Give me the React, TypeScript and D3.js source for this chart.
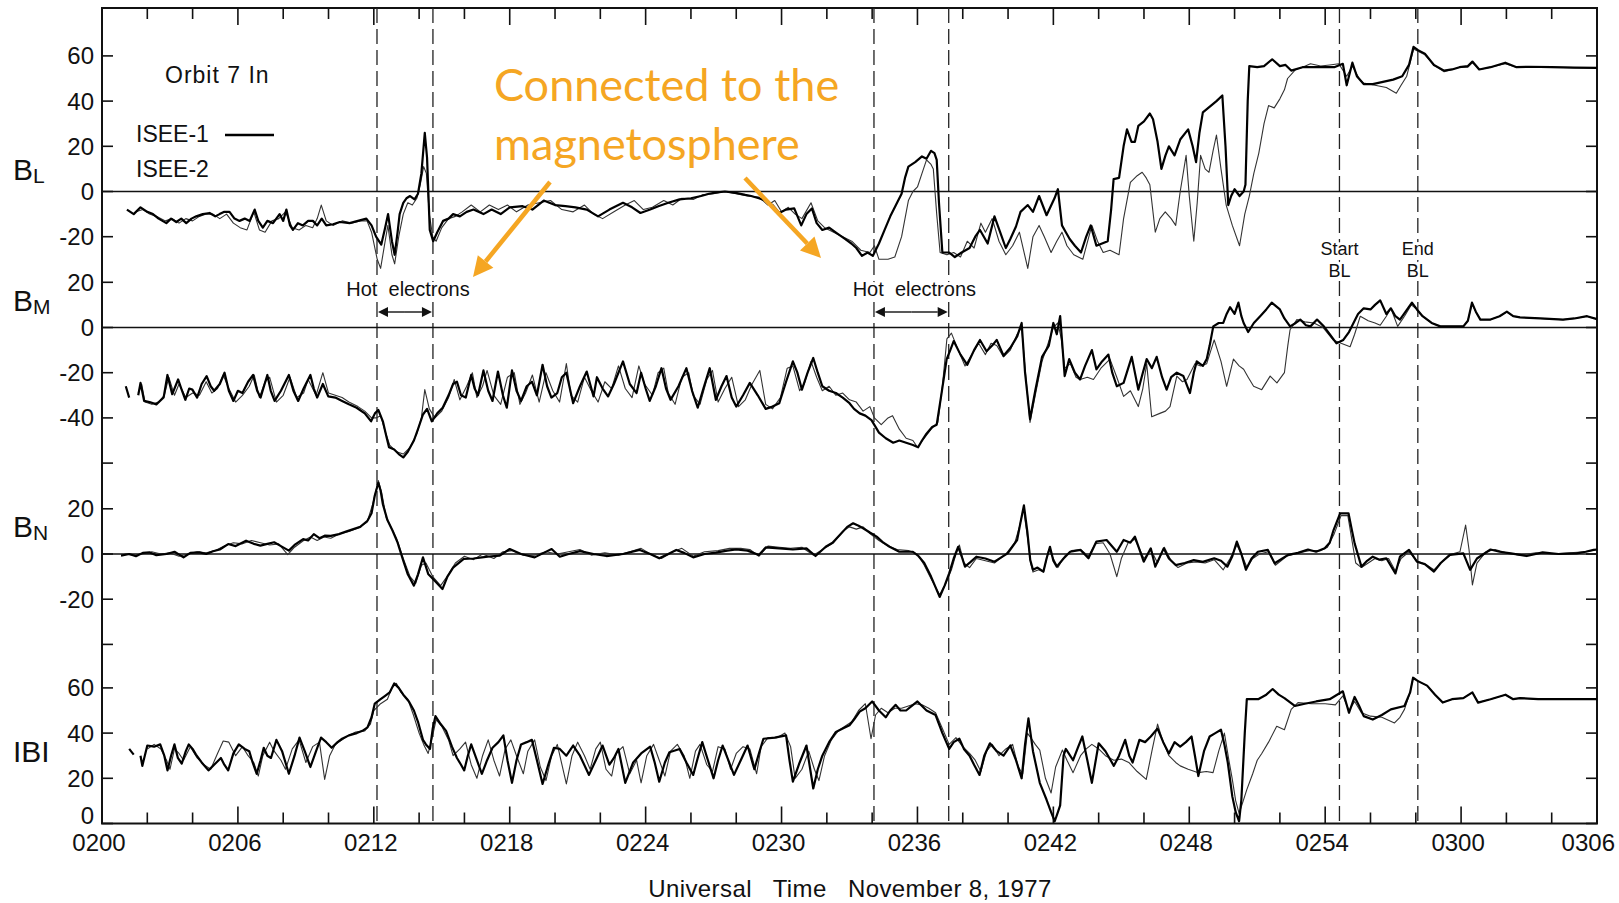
import React from 'react';
import * as d3 from 'd3';

type P = [number, number | null];

// minutes after 02:00 UT, value in nT
const BL_ISEE1: P[] = [[1.1,-8],[1.4,-10],[1.7,-7],[2.0,-9],[2.25,-10],[2.5,-12],[2.84,-14],[3.05,-12],[3.28,-13.5],[3.5,-12],[3.72,-14],[3.95,-12],[4.16,-11],[4.45,-10],[4.75,-9.5],[5.0,-11],[5.19,-10],[5.4,-9],[5.63,-9],[5.85,-12],[6.07,-13],[6.3,-12],[6.52,-13],[6.74,-8],[6.9,-13],[7.1,-16],[7.3,-13],[7.55,-14],[7.84,-10],[8.0,-13],[8.14,-8],[8.3,-15],[8.43,-17],[8.65,-14],[8.87,-15],[9.1,-13],[9.31,-13],[9.5,-15],[9.7,-12],[9.9,-15],[10.2,-14.5],[10.5,-13.5],[10.93,-14],[11.3,-13],[11.67,-12],[11.9,-15],[12.1,-20],[12.33,-23.5],[12.5,-16],[12.63,-10],[12.8,-22],[12.92,-28],[13.05,-18],[13.14,-10],[13.3,-5],[13.44,-3],[13.6,-2],[13.8,-3.5],[13.95,-1],[14.1,8],[14.25,26],[14.35,15],[14.47,-17],[14.62,-22],[14.8,-18],[15.06,-13],[15.3,-12],[15.5,-10],[15.8,-11],[16.1,-9],[16.4,-8],[16.84,-10],[17.2,-8],[17.6,-10],[18.0,-7],[18.57,-6.5],[19.0,-8],[19.5,-4],[20.0,-6],[20.46,-6.5],[20.9,-7],[21.4,-8],[21.9,-11],[22.4,-8],[23.0,-5],[23.4,-7],[23.77,-9.5],[24.2,-8],[24.56,-6.5],[25.0,-5],[25.5,-3.5],[26.0,-3],[26.45,-2],[26.8,-1],[27.08,-0.5],[27.5,0],[28.03,-0.7],[28.4,-1.5],[28.66,-2],[29.0,-3],[29.3,-4],[29.6,-6],[29.9,-9.5],[30.2,-8],[30.56,-7.5],[30.87,-15],[31.1,-10],[31.34,-7.5],[31.55,-14],[31.8,-17],[32.1,-16],[32.45,-18.5],[32.8,-21],[33.08,-23],[33.3,-25],[33.55,-28.5],[33.8,-27],[34.03,-28.5],[34.3,-23],[34.55,-17],[34.8,-11],[35.05,-6],[35.3,-1],[35.45,6],[35.6,11],[35.9,13],[36.2,15.5],[36.4,14.5],[36.6,18],[36.75,17],[36.85,14],[36.95,-5],[37.1,-27],[37.4,-27],[37.65,-29],[37.95,-27],[38.3,-25],[38.55,-20],[38.76,-17],[39.1,-23],[39.4,-11],[39.65,-18],[39.9,-25],[40.1,-21],[40.35,-15.5],[40.55,-9],[40.87,-6],[41.1,-9],[41.37,-2],[41.7,-10.5],[42.05,-3],[42.2,1],[42.38,-15],[42.55,-18],[42.72,-21],[42.95,-24],[43.22,-27],[43.45,-20],[43.65,-15],[43.9,-24],[44.15,-23],[44.4,-22],[44.55,-8],[44.66,5.5],[44.9,6],[45.1,20],[45.25,27.5],[45.45,22],[45.6,22],[45.75,29],[46.0,31],[46.26,34.5],[46.4,32],[46.6,22],[46.77,10],[46.95,16],[47.1,20],[47.35,16],[47.6,23],[47.95,27.5],[48.15,20],[48.3,13],[48.45,26],[48.6,35],[48.96,38],[49.2,40],[49.46,42.5],[49.6,20],[49.72,-6],[49.85,-2],[50.0,1],[50.22,-2],[50.4,0],[50.48,3],[50.58,40],[50.65,55.5],[51.0,55],[51.3,55.5],[51.66,58.5],[52.0,55.5],[52.25,56],[52.5,53.5],[53.0,55],[53.5,55],[54.0,55],[54.4,55],[54.78,56.5],[54.95,47],[55.2,57],[55.4,51],[55.7,47.5],[56.1,47.5],[56.55,48.5],[57.0,49.5],[57.4,51],[57.7,56],[57.9,64],[58.1,62.5],[58.4,61],[58.8,56],[59.25,53.5],[59.6,54],[59.93,55],[60.3,55.5],[60.5,57.5],[60.8,54],[61.3,55],[61.95,57],[62.45,55],[63.0,55.2],[64.0,55],[65.0,54.8],[66.0,54.7]];

const BL_ISEE2: P[] = [[1.5,-9],[1.8,-8],[2.1,-10],[2.4,-11],[2.8,-13],[3.1,-12],[3.4,-14],[3.7,-12],[4.0,-13],[4.3,-11],[4.6,-10],[4.9,-10],[5.2,-12],[5.5,-10],[5.8,-14],[6.1,-16],[6.4,-17],[6.7,-9],[6.95,-17],[7.2,-18],[7.5,-13],[7.8,-12],[8.1,-9],[8.4,-16],[8.7,-17],[9.0,-15],[9.3,-16],[9.5,-12],[9.68,-6],[9.9,-13],[10.2,-15],[10.6,-13],[11.0,-14],[11.4,-13],[11.7,-13],[11.9,-18],[12.15,-30],[12.3,-34],[12.5,-22],[12.62,-15],[12.8,-28],[12.92,-32],[13.1,-20],[13.3,-10],[13.5,-5],[13.7,-6],[13.9,-3],[14.05,3],[14.2,11],[14.32,8],[14.45,-10],[14.6,-20],[14.75,-22],[15.0,-16],[15.3,-12],[15.6,-11],[15.9,-9],[16.3,-6],[16.7,-9],[17.1,-6],[17.5,-8],[17.9,-6],[18.3,-9],[18.8,-6],[19.3,-5],[19.8,-4],[20.3,-8],[20.8,-9],[21.3,-6],[21.7,-10],[22.1,-12],[22.6,-9],[23.1,-6],[23.5,-4],[23.9,-8],[24.3,-7],[24.8,-4],[25.2,-6],[25.6,-3],[26.1,-3.5],[26.5,-1.5],[27.0,-1],[27.5,0],[28.0,-1],[28.5,-2],[29.0,-2.5],[29.4,-6],[29.7,-4],[30.0,-9],[30.3,-7],[30.6,-10],[30.9,-12],[31.3,-5],[31.6,-13],[31.9,-16],[32.3,-18],[32.7,-20],[33.1,-22],[33.5,-26],[33.9,-27],[34.1,-24],[34.3,-30],[34.7,-30],[35.0,-29],[35.3,-20],[35.6,-4],[35.8,0],[36.0,2],[36.2,8],[36.4,14],[36.6,12],[36.7,10],[36.85,-10],[37.0,-27],[37.3,-28],[37.6,-27],[37.9,-29],[38.2,-22],[38.5,-25],[38.8,-14],[39.0,-18],[39.3,-12],[39.6,-22],[39.9,-28],[40.2,-24],[40.5,-18],[40.87,-34],[41.1,-20],[41.37,-15],[41.6,-20],[41.9,-27],[42.15,-22],[42.38,-18],[42.6,-24],[42.9,-28],[43.3,-30],[43.7,-15],[43.95,-22],[44.2,-27],[44.5,-26],[44.9,-28],[45.1,-12],[45.4,4],[45.7,7],[45.92,8.5],[46.1,6],[46.26,3],[46.5,-18],[46.7,-12],[46.94,-9],[47.2,-12],[47.4,-15],[47.6,0],[47.86,16],[48.0,-2],[48.2,-22],[48.35,-5],[48.5,16],[48.7,10],[48.87,8.5],[49.05,18],[49.2,25],[49.4,10],[49.63,-6],[49.9,-15],[50.22,-24],[50.45,-10],[50.65,-2],[50.85,8],[51.07,17],[51.3,30],[51.5,38],[51.75,37],[52.0,41],[52.2,45],[52.34,50],[52.7,54],[53.0,55],[53.35,56.5],[53.8,55.5],[54.2,56],[54.6,56.5],[54.95,51],[55.2,55.5],[55.5,50],[55.7,48],[56.2,47],[56.7,46],[57.14,43.5],[57.35,47],[57.6,51],[57.9,63],[58.1,62],[58.4,60.5],[58.8,56],[59.25,53],[59.6,54],[59.93,55],[60.3,55],[60.5,57],[60.8,54],[61.3,55],[61.95,56.5],[62.45,55],[63.0,55],[64.0,55],[65.0,54.8],[66.0,54.7]];

const BM_ISEE1: P[] = [[1.05,-26],[1.2,-31],[1.3,null],[1.6,-30],[1.7,-24.5],[1.86,-32.5],[2.1,-33],[2.4,-34],[2.72,-31],[2.89,-21],[3.1,-29.5],[3.36,-23],[3.5,-27],[3.68,-32],[3.85,-27],[3.99,-27.5],[4.2,-31],[4.4,-25],[4.62,-21.5],[4.8,-26],[4.95,-28],[5.2,-25],[5.41,-20],[5.6,-28],[5.8,-32.5],[6.0,-28],[6.2,-29],[6.45,-24],[6.67,-21],[6.85,-28],[7.0,-31],[7.15,-26],[7.3,-21],[7.45,-28],[7.62,-32.5],[7.9,-28],[8.25,-21],[8.45,-28],[8.66,-32.5],[8.9,-27],[9.2,-21],[9.35,-27],[9.5,-31],[9.75,-25],[9.99,-30.5],[10.3,-31],[10.6,-32.5],[10.9,-34],[11.24,-35.5],[11.6,-38],[11.88,-41.5],[12.05,-38],[12.2,-36.5],[12.4,-41.5],[12.55,-48],[12.67,-53],[12.9,-54],[13.1,-56],[13.3,-57.5],[13.5,-55],[13.77,-50],[13.95,-45],[14.17,-38.5],[14.35,-36],[14.56,-41.5],[14.8,-38],[15.04,-35.5],[15.3,-30],[15.5,-25],[15.67,-24],[15.85,-30],[16.06,-31],[16.3,-21],[16.45,-27],[16.6,-30],[16.84,-19],[17.05,-28],[17.24,-32.5],[17.48,-19.5],[17.7,-30],[17.87,-35.5],[18.1,-19],[18.3,-28],[18.5,-32.5],[18.75,-26],[18.98,-24],[19.2,-30],[19.45,-16.5],[19.65,-26],[19.84,-31],[20.1,-29],[20.3,-22],[20.5,-20],[20.8,-33.5],[21.1,-26],[21.4,-19.5],[21.7,-30.5],[21.85,-22],[22.1,-27],[22.34,-30.5],[22.6,-25],[23.0,-15],[23.3,-25],[23.6,-29],[23.8,-20],[24.0,-27],[24.18,-32.5],[24.45,-26],[24.7,-18],[24.9,-27],[25.1,-32],[25.45,-26],[25.8,-18],[26.05,-28],[26.3,-35.5],[26.55,-27],[26.83,-18],[27.1,-32],[27.35,-26],[27.57,-21.5],[27.8,-31],[28.0,-35],[28.3,-30],[28.6,-24.5],[28.95,-30],[29.3,-36],[29.6,-35],[29.9,-33.5],[30.2,-24],[30.5,-15],[30.7,-20],[30.9,-27.5],[31.15,-20],[31.4,-13.5],[31.6,-20],[31.8,-26],[32.1,-28],[32.4,-29],[32.7,-31],[33.0,-33.5],[33.2,-36],[33.45,-38],[33.7,-39],[33.97,-41],[34.15,-44],[34.3,-46.5],[34.6,-49],[34.93,-51],[35.2,-50],[35.5,-51],[35.8,-52],[36.03,-53],[36.2,-50],[36.4,-47],[36.65,-44],[36.85,-43],[37.05,-30],[37.29,-14],[37.45,-10],[37.6,-6],[37.9,-12],[38.2,-16.5],[38.5,-10],[38.76,-5.5],[39.05,-10.5],[39.3,-8],[39.5,-5.5],[39.8,-12.5],[40.1,-9],[40.4,-4],[40.6,2],[40.75,-20],[40.97,-40.5],[41.2,-28],[41.5,-13],[41.8,-8],[42.0,2],[42.15,-3],[42.3,5],[42.5,-21.5],[42.7,-14],[42.95,-20],[43.18,-23],[43.4,-17],[43.7,-10],[43.9,-18.5],[44.15,-15],[44.43,-12],[44.6,-20],[44.8,-26],[45.1,-24.5],[45.46,-13],[45.75,-27.5],[45.95,-20],[46.12,-14],[46.35,-18],[46.56,-13],[46.8,-22],[47.0,-27.5],[47.2,-22],[47.45,-20],[47.74,-21.5],[48.03,-29],[48.2,-20],[48.33,-15],[48.6,-17],[48.77,-14],[48.9,-8],[49.06,0.5],[49.3,2],[49.5,2],[49.65,6],[49.8,9],[50.0,6],[50.17,11],[50.3,5],[50.4,2],[50.6,-2],[50.85,2],[51.13,5],[51.4,8],[51.64,11],[52.0,8],[52.2,4],[52.45,0.5],[52.7,2],[52.9,3.5],[53.15,1],[53.35,0.5],[53.64,3.5],[53.94,0.5],[54.2,-3],[54.5,-7],[54.8,-5.5],[55.05,-2],[55.25,2],[55.45,6],[55.7,8.5],[56.0,8],[56.2,10],[56.43,12],[56.7,6],[56.9,8.5],[57.1,5],[57.3,3.5],[57.55,7],[57.83,11],[58.05,8],[58.3,5],[58.7,2],[59.08,0.5],[59.6,0.5],[60.1,0.5],[60.3,3],[60.48,11],[60.65,7],[60.85,3.5],[61.3,3.5],[61.7,5],[62.02,7],[62.3,5],[62.6,4.5],[63.5,4],[64.5,3.5],[65.0,4],[65.56,5],[66.0,3.7]];

const BM_ISEE2: P[] = [[1.6,-29],[1.75,-25],[1.9,-33],[2.2,-34],[2.5,-33],[2.75,-30],[2.95,-22],[3.2,-30],[3.4,-25],[3.7,-31],[4.0,-29],[4.3,-30],[4.6,-24],[4.85,-29],[5.1,-27],[5.35,-21],[5.6,-27],[5.9,-33],[6.2,-30],[6.5,-26],[6.72,-21],[6.95,-31],[7.2,-24],[7.4,-22],[7.7,-33],[8.0,-30],[8.3,-22],[8.6,-31],[8.9,-29],[9.1,-23],[9.45,-30],[9.75,-20],[10.0,-29],[10.3,-30],[10.6,-31],[10.9,-33],[11.3,-35],[11.6,-37],[11.9,-40],[12.1,-40],[12.3,-39],[12.5,-46],[12.7,-52],[13.0,-55],[13.3,-56],[13.6,-53],[13.9,-47],[14.1,-40],[14.25,-27.5],[14.45,-36],[14.7,-40],[15.0,-37],[15.3,-31],[15.55,-23],[15.8,-32],[16.1,-26],[16.35,-20],[16.55,-31],[16.8,-26],[17.0,-19],[17.3,-30],[17.6,-34],[17.9,-22],[18.2,-20],[18.45,-34],[18.7,-29],[19.0,-21],[19.3,-33],[19.6,-20],[19.9,-28],[20.2,-33],[20.5,-16],[20.7,-30],[21.0,-33],[21.3,-22],[21.6,-28],[21.9,-33],[22.2,-24],[22.5,-27],[22.8,-17],[23.1,-27],[23.4,-31],[23.7,-17],[23.95,-25],[24.3,-30],[24.55,-20],[24.8,-18],[25.0,-29],[25.3,-34],[25.6,-22],[25.9,-20],[26.1,-30],[26.4,-34],[26.7,-23],[26.95,-19],[27.2,-33],[27.5,-27],[27.8,-22],[28.1,-35],[28.4,-32],[28.7,-25],[29.04,-19],[29.3,-34],[29.6,-36],[29.95,-31],[30.25,-18],[30.5,-17],[30.8,-28],[31.0,-25],[31.3,-15],[31.55,-22],[31.8,-28],[32.1,-26],[32.4,-30],[32.7,-29],[33.0,-32],[33.3,-33],[33.6,-37],[33.9,-35],[34.1,-40],[34.4,-43],[34.7,-40],[34.9,-39],[35.2,-45],[35.5,-49],[35.8,-50],[36.0,-53],[36.3,-49],[36.6,-45],[36.9,-42],[37.1,-26],[37.3,-5],[37.5,-2.5],[37.8,-10],[38.1,-17],[38.4,-12],[38.7,-7],[39.0,-12],[39.25,-7],[39.5,-8],[39.8,-13],[40.1,-10],[40.4,-3],[40.6,0],[40.75,-18],[40.97,-42],[41.2,-30],[41.5,-15],[41.8,-6],[42.0,0],[42.2,2],[42.35,-5],[42.5,-18],[42.75,-16],[43.0,-22],[43.18,-23],[43.5,-22],[43.77,-23],[44.1,-18],[44.5,-14],[44.8,-22],[45.1,-30.5],[45.4,-28],[45.75,-35],[45.95,-27],[46.12,-16],[46.34,-39.5],[46.7,-38],[46.95,-37],[47.15,-35],[47.45,-21.5],[47.7,-24],[47.9,-23],[48.25,-16],[48.5,-17],[48.77,-16],[49.1,-5.5],[49.4,-15],[49.65,-26],[49.95,-14],[50.2,-17],[50.4,-18.5],[50.6,-22],[50.84,-26],[51.2,-27.5],[51.57,-21.5],[51.87,-24.5],[52.2,-20],[52.35,-8],[52.45,-1],[52.75,3.5],[53.1,2.5],[53.5,2],[53.9,0],[54.35,-5.5],[54.7,-7],[55.1,-8.5],[55.3,-3],[55.55,5],[55.9,3],[56.2,2],[56.43,1],[56.7,5],[56.9,8.5],[57.2,0.5],[57.5,5],[57.8,10],[58.05,8],[58.3,5],[58.7,2],[59.08,0.5],[59.6,0.5],[60.1,0.5],[60.3,3],[60.48,10.5],[60.65,7],[60.85,3.5],[61.3,3.5],[61.7,5],[62.02,6.8],[62.3,5],[62.6,4.5],[63.5,4],[64.5,3.5],[65.0,4],[65.56,5],[66.0,3.7]];

const BN_ISEE1: P[] = [[0.84,-0.7],[1.2,0],[1.5,-1],[1.8,0.5],[2.1,0.7],[2.4,-0.5],[2.85,0],[3.2,1],[3.6,-1.5],[3.9,0.5],[4.3,0.7],[4.6,0],[4.9,1.2],[5.2,2],[5.57,4.4],[5.9,3.5],[6.36,5.9],[6.7,4.5],[6.99,3.7],[7.3,4.5],[7.6,5.2],[7.9,3.5],[8.25,1.5],[8.5,4],[8.88,6.6],[9.1,6],[9.35,8.8],[9.6,7],[9.83,8.1],[10.1,8],[10.46,8.8],[10.8,10],[11.1,11],[11.4,12],[11.72,14.7],[11.9,18],[12.04,25.8],[12.2,31.5],[12.3,28],[12.4,22],[12.6,15],[12.83,10.3],[13.05,5],[13.3,-3],[13.5,-9],[13.77,-14],[13.95,-9],[14.17,-1.5],[14.4,-8.8],[14.7,-12],[15.03,-15.5],[15.25,-10],[15.5,-6],[15.97,-2.2],[16.4,-2],[16.77,-1.5],[17.2,-1],[17.56,-0.7],[18.0,2.2],[18.5,0],[19.1,-1.5],[19.5,0.5],[19.85,2.2],[20.21,-1.2],[20.6,0],[21.1,1.3],[21.7,0],[22.27,-0.9],[23.0,0],[23.74,1.8],[24.2,0],[24.6,-1.9],[25.0,0],[25.35,1.8],[25.7,0.5],[26.1,-1.5],[26.6,0],[27.1,0.6],[27.6,1.5],[28.0,2],[28.5,1.5],[29.0,-0.4],[29.3,2.9],[29.9,2.5],[30.5,2],[31.1,2.5],[31.5,-0.9],[31.95,3.2],[32.25,5],[32.57,8.4],[32.9,12],[33.16,13.6],[33.4,12.5],[33.6,11.4],[33.9,9.5],[34.2,7.7],[34.5,5],[34.77,3.2],[35.2,1],[35.8,1],[36.05,-1],[36.3,-4],[36.6,-10],[36.98,-19],[37.2,-14],[37.4,-8.6],[37.6,-2],[37.8,3.2],[37.95,-1],[38.1,-5.6],[38.35,-3.5],[38.6,-1.2],[39.0,-2],[39.4,-3.4],[39.98,0.3],[40.4,6.2],[40.55,14],[40.7,21.5],[40.85,10],[40.98,-2.7],[41.1,-7],[41.3,-6],[41.56,-7.8],[41.7,-2],[41.85,3.2],[42.0,-3],[42.15,-5.6],[42.45,-2],[42.74,1],[43.2,1.8],[43.55,-1.9],[43.9,5.5],[44.35,6.2],[44.8,1],[45.1,6.2],[45.4,5],[45.6,7.7],[45.99,-3.4],[46.3,2.5],[46.5,-5.6],[46.87,2.5],[47.1,-2],[47.4,-4.9],[47.8,-4],[48.2,-2.7],[48.6,-3.5],[49.1,-1.9],[49.4,-3],[49.68,-5.6],[49.9,-1],[50.1,5.5],[50.3,0],[50.5,-7],[50.75,-2],[51.03,1],[51.47,1.8],[51.77,-4.1],[52.36,-0.4],[52.8,0.5],[53.24,2],[53.6,1],[53.98,2.5],[54.2,5],[54.37,10.6],[54.66,18],[55.03,18],[55.15,12],[55.3,4.7],[55.6,-5.6],[55.85,-3],[56.1,-1.2],[56.4,-2.5],[56.7,-1.9],[57.1,-8.6],[57.3,-1.2],[57.7,1.8],[58.05,-3.4],[58.4,-4.5],[58.8,-7.8],[59.1,-4],[59.5,-0.4],[60.1,0.3],[60.4,-7],[60.7,-2],[61.3,2],[61.7,1],[62.2,0.3],[62.9,-0.9],[63.6,0.7],[64.3,0],[65.1,0.3],[65.5,1],[65.85,1.8],[66.0,2]];

const BN_ISEE2: P[] = [[1.0,0],[1.4,-0.5],[1.8,0],[2.2,1],[2.6,0],[3.0,0.5],[3.4,-1],[3.8,0],[4.2,1],[4.6,0.5],[5.0,1.5],[5.4,3.5],[5.8,5],[6.2,4.5],[6.6,6],[7.0,5],[7.4,4],[7.8,4.5],[8.2,-0.3],[8.5,3],[8.9,6],[9.2,7.5],[9.5,6],[9.8,7.5],[10.1,7],[10.5,9],[10.9,10],[11.3,11.5],[11.7,14],[11.95,22],[12.2,32.5],[12.35,27],[12.55,16],[12.8,11],[13.0,7],[13.3,-2],[13.6,-10],[13.85,-13],[14.1,-5],[14.3,-4],[14.6,-10],[14.95,-14],[15.3,-9],[15.6,-4],[16.0,-1],[16.4,-2.5],[16.8,0],[17.3,-2],[17.7,1],[18.1,1.5],[18.6,-0.5],[19.1,-0.5],[19.6,1],[20.1,0],[20.6,1],[21.1,2],[21.6,-0.5],[22.2,0.5],[22.8,-0.5],[23.3,1],[23.8,2.5],[24.3,-0.5],[24.7,-2],[25.2,1],[25.6,2.5],[26.1,-1],[26.6,1],[27.2,1.5],[27.7,2.5],[28.2,2.5],[28.6,2],[29.0,-1],[29.4,3.5],[29.9,3],[30.4,2.5],[30.9,3],[31.4,-0.5],[31.9,2.5],[32.3,5],[32.7,10],[33.0,12],[33.3,11],[33.6,12],[33.9,9],[34.3,6],[34.7,3.5],[35.1,2],[35.6,1.5],[36.0,0],[36.3,-5],[36.6,-11],[36.98,-18],[37.25,-13],[37.5,-7],[37.7,0],[37.85,4],[38.05,-4],[38.3,-6],[38.6,-2],[39.0,-3],[39.4,-4],[39.9,0],[40.3,5],[40.5,12],[40.68,20],[40.85,8],[41.0,-4],[41.1,-8],[41.35,-7],[41.56,-8],[41.8,2],[42.0,-2],[42.2,-6],[42.5,-1],[42.8,1.5],[43.2,2],[43.55,-1],[43.85,4.5],[44.2,5],[44.5,0],[44.8,-10],[45.0,-2],[45.3,5],[45.6,6.5],[46.0,-2],[46.3,2],[46.6,-4],[46.9,3],[47.2,-3],[47.5,-6],[47.9,-4],[48.3,-3.5],[48.7,-4],[49.1,-2.5],[49.5,-7],[49.8,-2],[50.1,4],[50.3,0],[50.55,-6],[50.8,-2],[51.1,0],[51.5,1],[51.8,-5],[52.3,-1],[52.8,0.5],[53.3,1.5],[53.8,1.5],[54.1,3],[54.4,9],[54.7,17],[55.0,17],[55.15,8],[55.35,-4],[55.6,-6],[55.9,-4],[56.2,-2],[56.5,-3],[56.8,-2],[57.1,-7.5],[57.35,-2],[57.7,1],[58.05,-3],[58.5,-5],[58.8,-7],[59.2,-3],[59.6,0],[59.95,1],[60.2,12.8],[60.35,2],[60.5,-13.7],[60.7,-4],[61.1,1],[61.5,2],[62.0,0.5],[62.6,-0.5],[63.3,0.5],[64.0,0],[64.8,0.5],[65.5,1],[66.0,2]];

const B_ISEE1: P[] = [[1.2,33],[1.4,30.5],[1.5,null],[1.7,30],[1.78,25.5],[2.0,34.5],[2.3,34],[2.57,35],[2.75,30],[2.89,23.5],[3.05,30],[3.2,35],[3.35,29],[3.52,26.5],[3.7,32],[3.83,35],[4.0,33],[4.15,30.5],[4.4,27],[4.7,23.5],[4.95,26],[5.25,29],[5.4,26],[5.57,23.5],[5.8,31],[6.04,35],[6.3,33],[6.5,32],[6.65,27],[6.83,22],[7.0,28],[7.14,33.5],[7.3,30],[7.46,29],[7.7,37],[7.95,32],[8.25,22],[8.5,30],[8.72,38],[8.95,32],[9.2,25],[9.45,32],[9.67,38],[9.9,36],[10.14,33.5],[10.4,36],[10.6,37.5],[10.9,39],[11.25,40],[11.5,41],[11.72,42.5],[11.9,47],[12.04,53],[12.3,55],[12.5,56.5],[12.7,58],[12.9,62],[13.1,60],[13.3,57],[13.55,54],[13.77,50],[13.95,45],[14.17,37],[14.3,35],[14.48,33],[14.6,42],[14.72,47.5],[14.95,44],[15.19,41],[15.45,34],[15.67,29],[15.85,26],[15.99,23.5],[16.15,30],[16.3,35],[16.55,28],[16.77,22],[17.0,28],[17.24,33.5],[17.5,36],[17.72,39],[17.9,28],[18.1,18],[18.3,28],[18.5,35],[18.75,36],[18.98,37],[19.2,28],[19.45,17.5],[19.7,26],[19.95,33.5],[20.21,33],[20.5,30],[20.8,34.5],[21.1,30],[21.5,21.5],[21.8,28],[22.1,34.5],[22.4,26],[22.6,29],[22.8,33],[23.1,18],[23.45,27],[23.8,31],[24.2,34],[24.4,27],[24.6,18.5],[24.85,27],[25.05,31.5],[25.5,33],[25.8,27],[26.1,21.5],[26.3,29],[26.5,36],[26.75,28],[27.0,20],[27.2,28],[27.4,34.5],[27.65,28],[27.9,21.5],[28.2,28],[28.5,34.5],[28.8,24],[29.0,31],[29.2,37.5],[29.7,38],[30.2,39],[30.35,28],[30.5,18.5],[30.8,27],[31.1,34.5],[31.25,25],[31.4,15.5],[31.6,24],[31.8,30],[32.1,36],[32.4,40.5],[32.7,42],[33.0,43.5],[33.2,46],[33.45,49.5],[33.7,51],[34.0,54],[34.3,50],[34.6,47],[34.8,50],[35.04,52.5],[35.25,50],[35.5,50],[35.75,52],[36.0,54],[36.2,52],[36.4,50],[36.6,49],[36.8,48],[37.1,40],[37.4,33],[37.6,36],[37.85,37.5],[38.05,33],[38.3,30],[38.5,26],[38.74,21.5],[38.95,30],[39.2,35.5],[39.5,32],[39.8,30],[40.1,34.5],[40.35,28],[40.6,20],[40.75,35],[40.9,46.5],[41.1,32],[41.4,18],[41.7,10.5],[41.9,5],[42.06,1],[42.2,5],[42.3,8],[42.45,30],[42.55,33],[42.87,28],[43.1,34],[43.28,38.5],[43.5,28],[43.7,18],[44.0,35.5],[44.3,32],[44.67,25.5],[44.9,30],[45.17,37],[45.35,30],[45.5,27],[45.8,37],[46.05,36],[46.3,38.5],[46.6,42],[46.85,36],[47.1,31],[47.35,36],[47.6,34],[47.85,36],[48.1,38.5],[48.25,30],[48.4,21],[48.65,32],[48.9,38.5],[49.15,40],[49.4,41.5],[49.55,35],[49.7,27],[49.9,12],[50.05,5],[50.2,1],[50.3,10.5],[50.45,40],[50.54,55],[51.04,55],[51.4,57],[51.68,59.5],[51.95,57],[52.2,55.5],[52.66,52],[53.1,53],[53.6,54],[54.2,55],[54.78,58.5],[55.05,49],[55.3,56],[55.5,52],[55.7,47.5],[56.1,46],[56.5,48],[56.9,50.5],[57.5,52],[57.75,58],[57.88,64.5],[58.1,63],[58.5,61],[58.85,57],[59.19,53.5],[59.6,55],[60.1,55.5],[60.5,58],[60.75,53.5],[61.3,55],[61.96,57],[62.3,55],[62.6,55.5],[63.4,55],[64.2,55],[65.0,55],[66.0,55]];

const B_ISEE2: P[] = [[2.0,33],[2.3,35],[2.6,33],[2.85,28],[3.0,24],[3.2,33],[3.4,31],[3.6,28],[3.9,34],[4.2,29],[4.5,26],[4.8,24],[5.1,31],[5.35,36.5],[5.6,36],[5.9,30],[6.2,34],[6.45,30],[6.7,27],[6.9,21],[7.1,30],[7.4,36],[7.6,32],[7.9,28],[8.1,24],[8.4,33],[8.7,37],[9.0,27],[9.3,34],[9.6,36],[9.83,19.5],[10.05,30],[10.3,35],[10.6,37],[10.9,39],[11.2,40.5],[11.6,41],[11.85,44],[12.0,50],[12.3,53],[12.6,55],[12.8,60],[13.0,62],[13.2,58],[13.5,55],[13.75,48],[14.0,40],[14.2,35],[14.4,31],[14.6,39],[14.75,46],[15.0,43],[15.3,37],[15.5,30],[15.8,33],[16.05,36],[16.3,26],[16.55,20],[16.8,30],[17.05,37],[17.3,28],[17.55,21],[17.8,33],[18.05,37],[18.3,30],[18.6,22],[18.8,32],[19.1,37],[19.35,25],[19.6,19],[19.85,30],[20.1,35],[20.5,17.5],[20.75,30],[21.0,36],[21.3,30],[21.55,24],[21.8,33],[22.0,36],[22.25,24],[22.5,21],[22.7,31],[23.0,34],[23.3,22],[23.6,28],[23.8,18],[24.05,30],[24.35,35],[24.6,28],[24.85,21],[25.1,32],[25.4,35],[25.7,30],[25.95,20],[26.2,32],[26.4,35],[26.7,26],[26.95,23],[27.2,34],[27.5,33],[27.75,24],[28.0,31],[28.3,34],[28.6,33],[28.9,22],[29.1,34],[29.4,38],[29.8,38],[30.15,40],[30.4,34],[30.6,20],[30.9,24],[31.2,32],[31.45,24],[31.65,19],[31.9,30],[32.2,37],[32.5,41],[32.8,43],[33.1,45],[33.4,50],[33.7,53],[33.95,37.5],[34.15,48],[34.4,51],[34.7,49],[35.0,51],[35.3,51],[35.6,52],[35.9,53],[36.2,52.5],[36.5,51],[36.8,49],[37.1,42],[37.4,35],[37.7,38],[38.0,34],[38.3,31],[38.55,28],[38.8,23],[39.05,32],[39.3,35],[39.6,30],[39.9,33],[40.2,35],[40.45,25],[40.65,22],[40.85,40],[41.0,38],[41.2,35],[41.4,32.5],[41.65,20],[41.9,13.5],[42.1,25],[42.4,32.5],[42.6,28],[42.87,22.5],[43.2,30],[43.45,33],[43.7,35],[44.0,33],[44.3,30],[44.67,28],[45.0,28.5],[45.33,27],[45.7,23],[46.1,19.5],[46.35,32],[46.6,44],[46.85,36],[47.1,30],[47.4,27],[47.6,25.5],[47.95,24],[48.4,22.5],[48.75,23],[49.05,22.5],[49.3,32],[49.55,40],[49.75,28],[49.9,19.5],[50.05,10],[50.2,4.5],[50.35,9],[50.54,15],[50.8,22],[51.0,28],[51.2,31],[51.5,36],[51.86,43],[52.2,41.5],[52.5,50.5],[52.8,53.5],[53.4,53],[54.0,53],[54.45,52.5],[54.78,56.5],[55.05,50],[55.3,54],[55.6,49],[56.0,47.5],[56.5,47],[57.06,44.5],[57.3,47],[57.5,50.5],[57.75,58],[57.88,64.5],[58.1,63],[58.5,61],[58.85,57],[59.19,53.5],[59.6,55],[60.1,55.5],[60.5,58],[60.75,53.5],[61.3,55],[61.96,57],[62.3,55],[62.6,55.5],[63.4,55],[64.2,55],[65.0,55],[66.0,55]];

// axis definitions
const X_LABEL_MINUTES = [0, 6, 12, 18, 24, 30, 36, 42, 48, 54, 60, 66];
const X_LABELS = ['0200', '0206', '0212', '0218', '0224', '0230', '0236', '0242', '0248', '0254', '0300', '0306'];
const X_TICK_MINUTES = d3.range(0, 67, 2);

const BL_TICKS = [60, 40, 20, 0, -20];
const BL_LABELS = [60, 40, 20, 0, -20];
const BM_TICKS = [20, 0, -20, -40, -60];
const BM_LABELS = [20, 0, -20, -40];
const BN_TICKS = [20, 0, -20, -40];
const BN_LABELS = [20, 0, -20];
const B_TICKS = [60, 40, 20, 0];
const B_LABELS = [60, 40, 20, 0];

// event times (minutes after 0200): hot electrons x2, start/end boundary layer
const EVENT_TIMES = [12.14, 14.61, 34.08, 37.38, 54.63, 58.09];
const HOT_ELECTRON_INTERVALS: [number, number][] = [[12.14, 14.61], [34.08, 37.38]];

const W = 1619;
const H = 903;
const LEFT = 102;
const RIGHT = 1597;
const TOP = 8;
const BOTTOM = 823.5;
const PX_PER_NT = 2.26;
const FONT = "'Liberation Sans', Arial, Helvetica, sans-serif";
const ORANGE = '#F5A623';

const PANELS = [
  { key: 'BL', s1: BL_ISEE1, s2: BL_ISEE2, zero: 191.5, ticks: BL_TICKS, labels: BL_LABELS, zeroLine: true, label: 'B', sub: 'L', ly: 180 },
  { key: 'BM', s1: BM_ISEE1, s2: BM_ISEE2, zero: 327.5, ticks: BM_TICKS, labels: BM_LABELS, zeroLine: true, label: 'B', sub: 'M', ly: 311 },
  { key: 'BN', s1: BN_ISEE1, s2: BN_ISEE2, zero: 554, ticks: BN_TICKS, labels: BN_LABELS, zeroLine: true, label: 'B', sub: 'N', ly: 537 },
  { key: 'B', s1: B_ISEE1, s2: B_ISEE2, zero: BOTTOM, ticks: B_TICKS, labels: B_LABELS, zeroLine: false, label: 'IBI', sub: '', ly: 762 },
];

function Arrow({ x1, y1, x2, y2, color, width, head }: any) {
  const ang = Math.atan2(y2 - y1, x2 - x1);
  const hw = head * 0.5;
  const bx = x2 - head * Math.cos(ang);
  const by = y2 - head * Math.sin(ang);
  const px = -Math.sin(ang) * hw;
  const py = Math.cos(ang) * hw;
  return (
    <g>
      <line x1={x1} y1={y1} x2={bx} y2={by} stroke={color} strokeWidth={width} />
      <polygon points={`${x2},${y2} ${bx + px},${by + py} ${bx - px},${by - py}`} fill={color} />
    </g>
  );
}

export default function App() {
  const x = d3.scaleLinear().domain([0, 66]).range([LEFT, RIGHT]);

  const halo = { paintOrder: 'stroke' as const, stroke: '#fff', strokeWidth: 6, strokeLinejoin: 'round' as const };

  return (
    <svg width={W} height={H} viewBox={`0 0 ${W} ${H}`} style={{ position: 'absolute', left: 0, top: 0, background: '#fff' }} fontFamily={FONT}>
      <rect x={0} y={0} width={W} height={H} fill="#fff" />

      {/* frame */}
      <rect x={LEFT} y={TOP} width={RIGHT - LEFT} height={BOTTOM - TOP} fill="none" stroke="#111" strokeWidth={2} />

      {/* top and bottom ticks */}
      {X_TICK_MINUTES.map((m) => {
        const major = m % 6 === 0;
        const len = major ? 17 : 11;
        return (
          <g key={'xt' + m}>
            <line x1={x(m)} x2={x(m)} y1={TOP} y2={TOP + len} stroke="#111" strokeWidth={1.6} />
            <line x1={x(m)} x2={x(m)} y1={BOTTOM} y2={BOTTOM - len} stroke="#111" strokeWidth={1.6} />
          </g>
        );
      })}
      {X_LABEL_MINUTES.map((m, i) => {
        const last = i === X_LABEL_MINUTES.length - 1;
        return (
          <text key={'xl' + m} x={last ? W - 4 : x(m) - 3} y={851} fontSize={24} textAnchor={last ? 'end' : 'middle'} fill="#111">
            {X_LABELS[i]}
          </text>
        );
      })}
      <text x={850} y={897} fontSize={24} textAnchor="middle" fill="#111" letterSpacing={0.4} style={{ whiteSpace: 'pre' }}>
        {'Universal   Time   November 8, 1977'}
      </text>

      {/* dashed event lines */}
      {EVENT_TIMES.map((m) => (
        <line key={'ev' + m} x1={x(m)} x2={x(m)} y1={TOP} y2={BOTTOM} stroke="#222" strokeWidth={1.3} strokeDasharray="15,6" />
      ))}

      {PANELS.map((p) => {
        const y = d3.scaleLinear().domain([0, 60]).range([p.zero, p.zero - 60 * PX_PER_NT]);
        const line = d3
          .line<P>()
          .defined((d) => d[1] !== null)
          .x((d) => x(d[0]))
          .y((d) => y(d[1] as number));
        return (
          <g key={p.key}>
            {p.zeroLine && <line x1={LEFT} x2={RIGHT} y1={y(0)} y2={y(0)} stroke="#111" strokeWidth={1.6} />}
            {p.ticks.map((t) => (
              <g key={p.key + 't' + t}>
                <line x1={LEFT} x2={LEFT + 11} y1={y(t)} y2={y(t)} stroke="#111" strokeWidth={1.6} />
                <line x1={RIGHT} x2={RIGHT - 11} y1={y(t)} y2={y(t)} stroke="#111" strokeWidth={1.6} />
              </g>
            ))}
            {p.labels.map((t) => (
              <text
                key={p.key + 'l' + t}
                x={94}
                y={y(t) + (!p.zeroLine && t === 0 ? 0 : 8.5)}
                fontSize={24}
                textAnchor="end"
                fill="#111"
              >
                {t}
              </text>
            ))}
            <path d={line(p.s2) || ''} fill="none" stroke="#333" strokeWidth={1.1} strokeLinejoin="round" />
            <path d={line(p.s1) || ''} fill="none" stroke="#000" strokeWidth={2.2} strokeLinejoin="round" />
            <text x={13} y={p.ly} fontSize={30} fill="#111">
              {p.label}
              {p.sub && (
                <tspan fontSize={21} dy={3}>
                  {p.sub}
                </tspan>
              )}
            </text>
          </g>
        );
      })}

      {/* hot electrons annotations */}
      {HOT_ELECTRON_INTERVALS.map(([a, b], i) => {
        const xa = x(a);
        const xb = x(b);
        return (
          <g key={'hot' + i}>
            <text x={(xa + xb) / 2 + 3} y={296} fontSize={20} textAnchor="middle" fill="#111" style={{ whiteSpace: 'pre', ...halo }}>
              {'Hot  electrons'}
            </text>
            <Arrow x1={(xa + xb) / 2} y1={312} x2={xa + 1} y2={312} color="#111" width={1.4} head={10} />
            <Arrow x1={(xa + xb) / 2} y1={312} x2={xb - 1} y2={312} color="#111" width={1.4} head={10} />
          </g>
        );
      })}

      {/* boundary layer labels */}
      <text x={x(EVENT_TIMES[4])} y={255} fontSize={18} textAnchor="middle" fill="#111" style={halo}>Start</text>
      <text x={x(EVENT_TIMES[4])} y={277} fontSize={18} textAnchor="middle" fill="#111" style={halo}>BL</text>
      <text x={x(EVENT_TIMES[5])} y={255} fontSize={18} textAnchor="middle" fill="#111" style={halo}>End</text>
      <text x={x(EVENT_TIMES[5])} y={277} fontSize={18} textAnchor="middle" fill="#111" style={halo}>BL</text>

      {/* legend */}
      <text x={165} y={83} fontSize={23} fill="#111" letterSpacing={1}>Orbit 7 In</text>
      <text x={136} y={142} fontSize={23} fill="#111">ISEE-1</text>
      <line x1={225} x2={274} y1={135} y2={135} stroke="#000" strokeWidth={2.4} />
      <text x={136} y={177} fontSize={23} fill="#111">ISEE-2</text>

      {/* orange annotation */}
      <text x={494} y={101} fontSize={45} fill={ORANGE} fontFamily="Lato, 'Open Sans', sans-serif">Connected to the</text>
      <text x={494} y={160} fontSize={45} fill={ORANGE} fontFamily="Lato, 'Open Sans', sans-serif">magnetosphere</text>
      <Arrow x1={550} y1={182} x2={473} y2={277} color={ORANGE} width={4.5} head={20} />
      <Arrow x1={745} y1={178} x2={821} y2={258} color={ORANGE} width={4.5} head={20} />
    </svg>
  );
}
